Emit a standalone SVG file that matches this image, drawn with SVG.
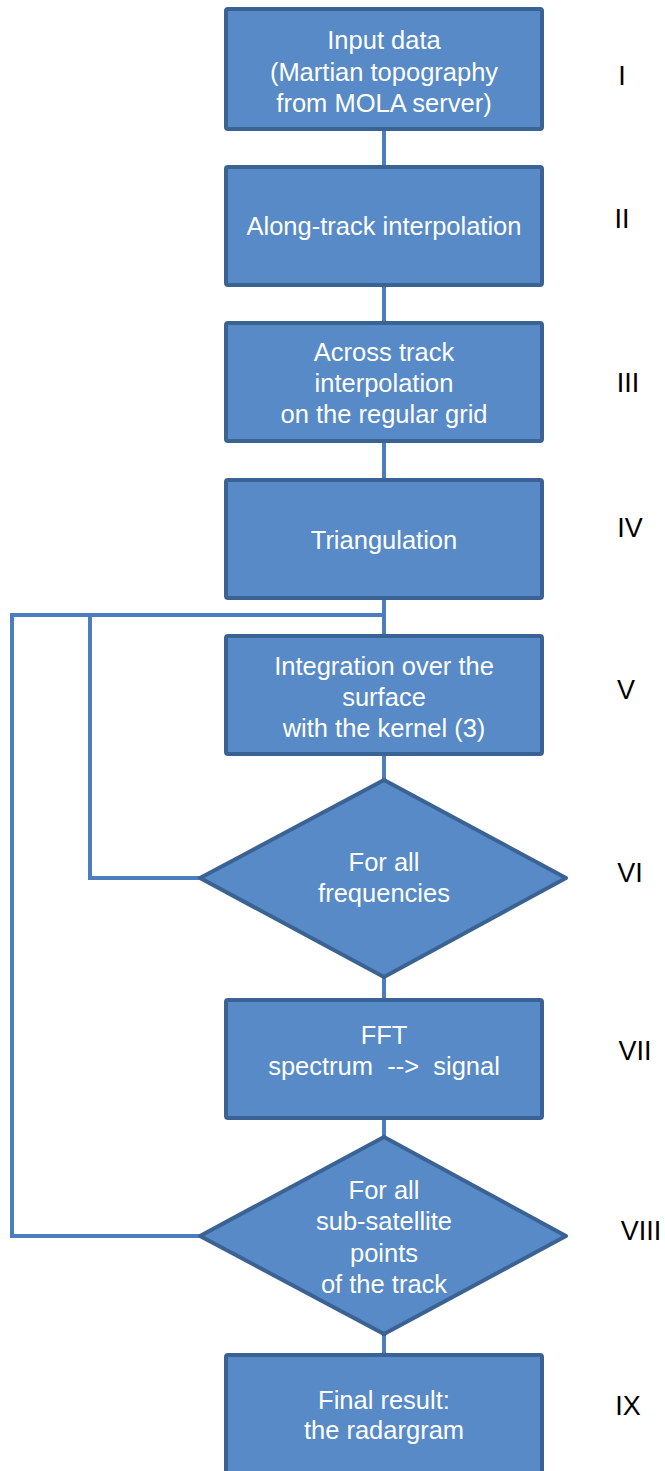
<svg xmlns="http://www.w3.org/2000/svg" width="665" height="1471" viewBox="0 0 665 1471">
<style>
.box{fill:#578ac7;stroke:#3a6394;stroke-width:4;stroke-linejoin:round}
.t{fill:#ffffff;font-family:"Liberation Sans",Arial,sans-serif;font-size:25.5px;text-anchor:middle}
.n{fill:#000000;font-family:"Liberation Sans",Arial,sans-serif;font-size:27px;text-anchor:middle}
.c{fill:none;stroke:#4a7ebf;stroke-width:4}
</style>
<rect width="665" height="1471" fill="#ffffff"/>
<g id="connectors">
<line class="c" x1="384" y1="129" x2="384" y2="167"/>
<line class="c" x1="384" y1="285" x2="384" y2="323"/>
<line class="c" x1="384" y1="441" x2="384" y2="480"/>
<line class="c" x1="384" y1="598" x2="384" y2="636"/>
<line class="c" x1="384" y1="754" x2="384" y2="780"/>
<line class="c" x1="384" y1="977" x2="384" y2="1000"/>
<line class="c" x1="384" y1="1118" x2="384" y2="1137"/>
<line class="c" x1="384" y1="1334" x2="384" y2="1355"/>
<polyline class="c" points="384,615 12,615 12,1236 200,1236"/>
<polyline class="c" points="90,615 90,878 200,878"/>
</g>
<g id="n1"><rect class="box" x="226" y="9" width="316" height="120" rx="2"/>
<text class="t" x="384" y="49">Input data</text><text class="t" x="384" y="81">(Martian topography</text><text class="t" x="384" y="112">from MOLA server)</text></g>
<g id="n2"><rect class="box" x="226" y="167" width="316" height="118" rx="2"/>
<text class="t" x="384" y="235">Along-track interpolation</text></g>
<g id="n3"><rect class="box" x="226" y="323" width="316" height="118" rx="2"/>
<text class="t" x="384" y="361">Across track</text><text class="t" x="384" y="392">interpolation</text><text class="t" x="384" y="423">on the regular grid</text></g>
<g id="n4"><rect class="box" x="226" y="480" width="316" height="118" rx="2"/>
<text class="t" x="384" y="549">Triangulation</text></g>
<g id="n5"><rect class="box" x="226" y="636" width="316" height="118" rx="2"/>
<text class="t" x="384" y="675">Integration over the</text><text class="t" x="384" y="706">surface</text><text class="t" x="384" y="737">with the kernel (3)</text></g>
<g id="n6"><polygon class="box" points="384,780 566,878 384,977 200,878"/>
<text class="t" x="384" y="871">For all</text><text class="t" x="384" y="902">frequencies</text></g>
<g id="n7"><rect class="box" x="226" y="1000" width="316" height="118" rx="2"/>
<text class="t" x="384" y="1044">FFT</text><text class="t" x="384" y="1075" xml:space="preserve">spectrum  -->  signal</text></g>
<g id="n8"><polygon class="box" points="384,1137 566,1236 384,1334 200,1236"/>
<text class="t" x="384" y="1199">For all</text><text class="t" x="384" y="1230">sub-satellite</text><text class="t" x="384" y="1262">points</text><text class="t" x="384" y="1293">of the track</text></g>
<g id="n9"><rect class="box" x="226" y="1355" width="316" height="130" rx="2"/>
<text class="t" x="384" y="1409">Final result:</text><text class="t" x="384" y="1439">the radargram</text></g>
<g id="labels">
<text class="n" x="622" y="85">I</text>
<text class="n" x="622" y="228">II</text>
<text class="n" x="628" y="392">III</text>
<text class="n" x="630" y="537">IV</text>
<text class="n" x="626" y="699">V</text>
<text class="n" x="630" y="882">VI</text>
<text class="n" x="635" y="1060">VII</text>
<text class="n" x="641" y="1240">VIII</text>
<text class="n" x="628" y="1415">IX</text>
</g>
</svg>
